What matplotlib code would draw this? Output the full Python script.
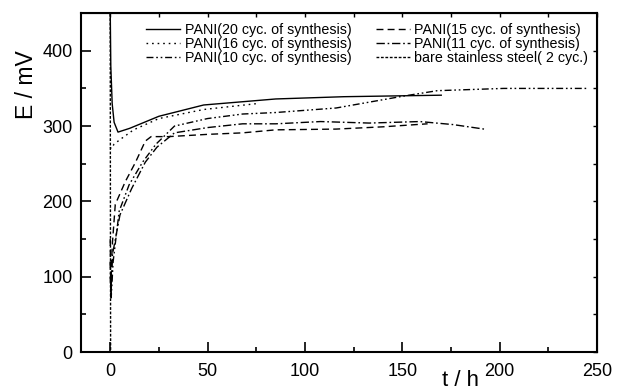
import matplotlib
matplotlib.use('Agg')
import matplotlib.pyplot as plt

plt.rcParams['font.family'] = ['Liberation Sans', 'DejaVu Sans']
plt.rcParams['lines.scale_dashes'] = False

# potential vs time
t20 = [0, 0.3, 1, 2, 4, 10, 25, 48, 85, 120, 170]
E20 = [455, 380, 330, 305, 292, 297, 313, 328, 336, 339, 341]

t16 = [0, 0.5, 2, 5, 12, 25, 48, 76]
E16 = [272, 270, 276, 282, 295, 310, 322, 330]

t15 = [0, 0.3, 1, 2.6, 7.7, 13, 18, 21, 30, 50, 68, 85, 116, 140, 163]
E15 = [150, 80, 140, 196, 226, 252, 280, 286, 286, 289, 291, 295, 296, 299, 303]

t11 = [0, 0.4, 1.2, 5, 11, 18, 24, 33, 50, 68, 85, 108, 133, 159, 176, 192]
E11 = [120, 75, 130, 182, 217, 252, 272, 291, 298, 303, 303, 306, 304, 306, 302, 296]

t10 = [0, 0.5, 1.5, 4.6, 9.7, 16.6, 23.5, 33, 50, 68, 85, 116, 151, 168, 202, 245]
E10 = [100, 72, 120, 187, 222, 252, 276, 300, 310, 316, 318, 324, 340, 347, 350, 350]

tBare = [0, 0.1, 0.2]
EBare = [455, 200, 0]

labels = ['PANI(20 cyc. of synthesis)', 'PANI(16 cyc. of synthesis)',
          'PANI(10 cyc. of synthesis)', 'PANI(15 cyc. of synthesis)',
          'PANI(11 cyc. of synthesis)', 'bare stainless steel( 2 cyc.)']

fig = plt.figure(figsize=(6.27, 3.9), dpi=100)
ax = fig.add_axes([0.1292, 0.0974, 0.823, 0.869])

lw = 1.0
ax.plot(t20, E20, color='black', lw=lw, label=labels[0])
ax.plot(t16, E16, color='black', lw=lw, dashes=(1.2, 2.8), label=labels[1])
ax.plot(t10, E10, color='black', lw=lw, dashes=(5, 2, 1.2, 2, 1.2, 2), label=labels[2])
ax.plot(t15, E15, color='black', lw=lw, dashes=(5, 3), label=labels[3])
ax.plot(t11, E11, color='black', lw=lw, dashes=(6, 2, 1.2, 2), label=labels[4])
ax.plot(tBare, EBare, color='black', lw=lw, dashes=(2, 1.2), label=labels[5])

ax.set_xlim(-15, 250)
ax.set_ylim(0, 450)
ax.set_xticks([0, 50, 100, 150, 200, 250])
ax.set_xticks([25, 75, 125, 175, 225], minor=True)
ax.set_yticks([0, 100, 200, 300, 400])
ax.set_yticks([50, 150, 250, 350], minor=True)
ax.tick_params(which='major', direction='in', length=7, width=1.2, labelsize=13, pad=8)
ax.tick_params(which='minor', direction='in', length=3.6, width=1.2)
ax.tick_params(axis='y', pad=6)
for s in ax.spines.values():
    s.set_linewidth(1.5)

# short ticks on top and right
top = ax.secondary_xaxis('top')
top.set_xticks([0, 25, 50, 75, 100, 125, 150, 175, 200, 225, 250])
top.tick_params(direction='in', length=3, width=1, labeltop=False)
right = ax.secondary_yaxis('right')
right.set_yticks([0, 50, 100, 150, 200, 250, 300, 350, 400])
right.tick_params(direction='in', length=3, width=1, labelright=False)

ax.set_xlabel('t / h', fontsize=16, va='top')
ax.xaxis.set_label_coords(0.736, -0.054)
ax.set_ylabel('E / mV', fontsize=16.5)
ax.yaxis.set_label_coords(-0.083, 0.79)

ax.legend(ncol=2, frameon=False, fontsize=10.3, handlelength=2.4, handletextpad=0.3,
          columnspacing=1.7, labelspacing=0.0, loc='upper left',
          bbox_to_anchor=(0.126, 0.971), borderaxespad=0, borderpad=0)

fig.savefig('out.png', dpi=100)
